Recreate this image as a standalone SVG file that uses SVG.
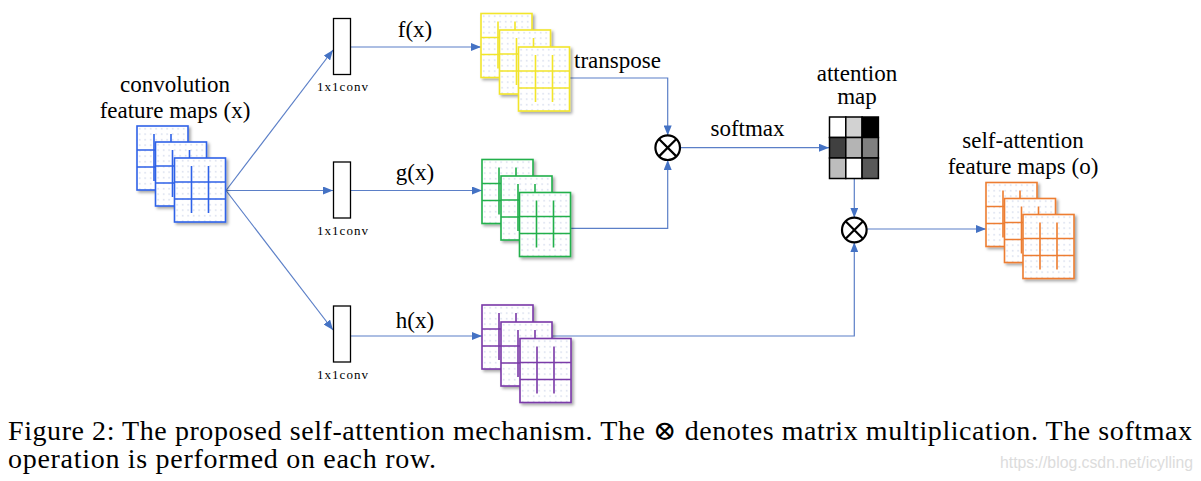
<svg xmlns="http://www.w3.org/2000/svg" xmlns:xlink="http://www.w3.org/1999/xlink" width="1201" height="481" viewBox="0 0 1201 481">
<style>
  .lbl { font-family: "Liberation Serif", "Times New Roman", serif; font-size: 23px; fill: #000; }
  .conv { font-family: "Liberation Serif", "Times New Roman", serif; font-size: 13px; fill: #000; }
  .cap { font-family: "Liberation Serif", "Times New Roman", "DejaVu Serif", serif; font-size: 28px; fill: #000; }
  .wm { font-family: "Liberation Sans", Arial, sans-serif; font-size: 16px; fill: #dcdcdc; }
  .cn { fill: none; stroke: #5b7fc7; stroke-width: 1.2; marker-end: url(#ah); }
  .box { fill: #fff; stroke: #000; stroke-width: 1.3; }
  .mul { fill: #fff; stroke: #000; stroke-width: 2.2; }
  .cell { stroke: #000; stroke-width: 1.5; }
</style>
<defs>
  <pattern id="dots" width="5.5" height="5.5" patternUnits="userSpaceOnUse">
    <rect width="5.5" height="5.5" fill="#ffffff"/>
    <circle cx="2.7" cy="2.7" r="0.6" fill="#a9b8da"/>
  </pattern>
  <filter id="sh" x="-20%" y="-20%" width="150%" height="150%">
    <feDropShadow dx="2" dy="2" stdDeviation="1.5" flood-color="#000" flood-opacity="0.35"/>
  </filter>
  <g id="sheet">
    <rect x="0" y="0" width="51" height="64" fill="url(#dots)" stroke="currentColor" stroke-width="1.6"/>
    <path d="M0 24H51M0 41H51M17 8V55M34 8V55" stroke="currentColor" stroke-width="1.6" fill="none"/>
  </g>
  <marker id="ah" markerWidth="10" markerHeight="8" refX="10" refY="4" orient="auto" markerUnits="userSpaceOnUse">
    <path d="M0 0L10 4L0 8Z" fill="#4472c4"/>
  </marker>
</defs>
<rect width="1201" height="481" fill="#fff"/>

<g id="connectors">
  <path class="cn" d="M226 190.5L333 50"/>
  <path class="cn" d="M226 190.5H333"/>
  <path class="cn" d="M226 190.5L333 330"/>
  <path class="cn" d="M351 47H481"/>
  <path class="cn" d="M351 190.5H482"/>
  <path class="cn" d="M351 336H482"/>
  <path class="cn" d="M569.5 78H667.7V135.4"/>
  <path class="cn" d="M570.5 228.3H667.7V160"/>
  <path class="cn" d="M680 147.7H829"/>
  <path class="cn" d="M854.3 178.5V217.7"/>
  <path class="cn" d="M551 336H854.3V242.3"/>
  <path class="cn" d="M866.6 229H986"/>
</g>

<g id="input-maps" style="color:#2f62e8">
  <use xlink:href="#sheet" href="#sheet" x="137" y="126" filter="url(#sh)"/>
  <use xlink:href="#sheet" href="#sheet" x="155.5" y="142" filter="url(#sh)"/>
  <use xlink:href="#sheet" href="#sheet" x="174.5" y="158" filter="url(#sh)"/>
</g>
<g id="input-label">
  <text class="lbl" x="175" y="92" text-anchor="middle">convolution</text>
  <text class="lbl" x="175" y="118" text-anchor="middle">feature maps (x)</text>
</g>

<g id="conv-f">
  <rect class="box" x="333.5" y="18.5" width="17" height="56"/>
  <text class="conv" x="342.5" y="91" text-anchor="middle" textLength="51" lengthAdjust="spacing">1x1conv</text>
</g>
<g id="conv-g">
  <rect class="box" x="333.5" y="162" width="17" height="56"/>
  <text class="conv" x="342.5" y="235" text-anchor="middle" textLength="51" lengthAdjust="spacing">1x1conv</text>
</g>
<g id="conv-h">
  <rect class="box" x="333.5" y="306" width="17" height="56"/>
  <text class="conv" x="342.5" y="379" text-anchor="middle" textLength="51" lengthAdjust="spacing">1x1conv</text>
</g>

<g id="labels">
  <text class="lbl" x="415" y="37" text-anchor="middle">f(x)</text>
  <text class="lbl" x="415" y="180" text-anchor="middle">g(x)</text>
  <text class="lbl" x="415" y="328" text-anchor="middle">h(x)</text>
  <text class="lbl" x="617.5" y="68" text-anchor="middle">transpose</text>
  <text class="lbl" x="747.5" y="136" text-anchor="middle">softmax</text>
</g>

<g id="f-maps" style="color:#f2e52a">
  <use xlink:href="#sheet" href="#sheet" x="481" y="13.5" filter="url(#sh)"/>
  <use xlink:href="#sheet" href="#sheet" x="499.5" y="30" filter="url(#sh)"/>
  <use xlink:href="#sheet" href="#sheet" x="518.5" y="47" filter="url(#sh)"/>
</g>
<g id="g-maps" style="color:#22b04b">
  <use xlink:href="#sheet" href="#sheet" x="482" y="159.5" filter="url(#sh)"/>
  <use xlink:href="#sheet" href="#sheet" x="501" y="176" filter="url(#sh)"/>
  <use xlink:href="#sheet" href="#sheet" x="519.5" y="192.5" filter="url(#sh)"/>
</g>
<g id="h-maps" style="color:#7a3aa8">
  <use xlink:href="#sheet" href="#sheet" x="482" y="305" filter="url(#sh)"/>
  <use xlink:href="#sheet" href="#sheet" x="501" y="322" filter="url(#sh)"/>
  <use xlink:href="#sheet" href="#sheet" x="520" y="338.5" filter="url(#sh)"/>
</g>

<g id="matmul-1">
  <circle class="mul" cx="667.7" cy="147.7" r="12.3"/>
  <path d="M659 139L676.4 156.4M676.4 139L659 156.4" stroke="#000" stroke-width="2.2"/>
</g>

<g id="attention-map">
  <text class="lbl" x="857" y="81" text-anchor="middle">attention</text>
  <text class="lbl" x="857" y="104" text-anchor="middle">map</text>
  <rect class="cell" x="829.5" y="117" width="16.3" height="20.5" fill="#ffffff"/>
  <rect class="cell" x="845.8" y="117" width="16.3" height="20.5" fill="#d2d2d2"/>
  <rect class="cell" x="862.1" y="117" width="16.3" height="20.5" fill="#000000"/>
  <rect class="cell" x="829.5" y="137.5" width="16.3" height="20.5" fill="#404040"/>
  <rect class="cell" x="845.8" y="137.5" width="16.3" height="20.5" fill="#b4b4b4"/>
  <rect class="cell" x="862.1" y="137.5" width="16.3" height="20.5" fill="#808080"/>
  <rect class="cell" x="829.5" y="158" width="16.3" height="20.5" fill="#bdbdbd"/>
  <rect class="cell" x="845.8" y="158" width="16.3" height="20.5" fill="#ffffff"/>
  <rect class="cell" x="862.1" y="158" width="16.3" height="20.5" fill="#595959"/>
</g>

<g id="matmul-2">
  <circle class="mul" cx="854.3" cy="230" r="12.3"/>
  <path d="M845.6 221.3L863 238.7M863 221.3L845.6 238.7" stroke="#000" stroke-width="2.2"/>
</g>

<g id="output-maps" style="color:#ed7d31">
  <use xlink:href="#sheet" href="#sheet" x="986" y="182.5" filter="url(#sh)"/>
  <use xlink:href="#sheet" href="#sheet" x="1004.5" y="198.5" filter="url(#sh)"/>
  <use xlink:href="#sheet" href="#sheet" x="1023" y="214.5" filter="url(#sh)"/>
</g>
<g id="output-label">
  <text class="lbl" x="1023" y="148" text-anchor="middle">self-attention</text>
  <text class="lbl" x="1023" y="174" text-anchor="middle">feature maps (o)</text>
</g>

<g id="caption">
  <text class="cap" x="8" y="440" textLength="1184" lengthAdjust="spacing">Figure 2: The proposed self-attention mechanism. The ⊗ denotes matrix multiplication. The softmax</text>
  <text class="cap" x="8" y="468" textLength="428" lengthAdjust="spacing">operation is performed on each row.</text>
</g>
<text class="wm" x="1000" y="468" textLength="193" lengthAdjust="spacingAndGlyphs">https://blog.csdn.net/icylling</text>
</svg>
